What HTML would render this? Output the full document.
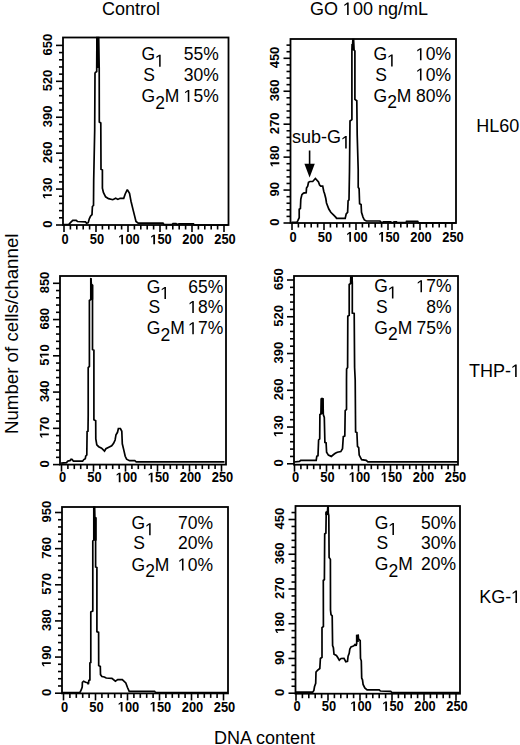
<!DOCTYPE html>
<html><head><meta charset="utf-8"><style>
html,body{margin:0;padding:0;background:#fff;}
body{width:520px;height:745px;overflow:hidden;}
svg{display:block;}
.tk{font-family:"Liberation Sans",sans-serif;font-weight:bold;font-size:13px;fill:#000;}
.tkx{font-family:"Liberation Sans",sans-serif;font-weight:bold;font-size:14px;fill:#000;}
.an{font-family:"Liberation Sans",sans-serif;font-size:17.5px;fill:#000;}
.tt{font-family:"Liberation Sans",sans-serif;font-size:18px;fill:#000;}
</style></head><body>
<svg width="520" height="745" viewBox="0 0 520 745">
<rect width="520" height="745" fill="#fff"/>
<rect x="96.2" y="37.5" width="3" height="30.5" fill="#000"/>
<rect x="352.5" y="39.5" width="1.5" height="10.7" fill="#000"/>
<rect x="351.3" y="44" width="2.7" height="6.2" fill="#000"/>
<rect x="90.2" y="278.4" width="1.5" height="6.7" fill="#000"/>
<rect x="90.2" y="285" width="3" height="14.6" fill="#000"/>
<rect x="350.1" y="277" width="2.7" height="6.6" fill="#000"/>
<rect x="320.9" y="398.5" width="2.7" height="15.5" fill="#000"/>
<rect x="93.1" y="507" width="2.1" height="10.3" fill="#000"/>
<rect x="93.1" y="517.3" width="3.6" height="23.3" fill="#000"/>
<rect x="327.1" y="507" width="1.5" height="4.5" fill="#000"/>
<rect x="325.3" y="511.5" width="3.3" height="3.6" fill="#000"/>
<rect x="356.3" y="635.3" width="2.5" height="6.7" fill="#000"/>
<polyline points="63.5,224.5 69.3,224.5 69.3,223.8 71.2,221.9 72.8,220.4 76.2,220.4 77.4,221.5 85.5,221.9 86.6,223.2 88.2,222.7 89.3,218.8 90.5,216.2 92,214.6 92.4,206.5 93.5,205.4 93.7,180 94.7,130 95,73.3 95.3,72.5 96.7,71.5 96.9,37.5 98.6,37.5 99.2,68 99.3,122 100.8,123 101,169.3 102.4,170 102.4,188.1 103.4,192.5 105.6,196.8 108.5,198.6 112.8,199.7 115.7,198.3 117.9,199.4 120.1,198.3 123.7,198.3 125.2,194 127.3,189.6 129.5,193.2 131,201.2 133.1,209.9 136,221.4 138.2,223.2 163,223.2 164,224.5 172,224.5 173,223.5 176,223.5 177,224.5 179,223.8 193.5,223.8 194,225 228,225" fill="none" stroke="#000" stroke-width="1.7" stroke-linejoin="miter" stroke-miterlimit="2"/>
<rect x="63" y="37.5" width="165.5" height="187.5" fill="none" stroke="#000" stroke-width="1.8"/>
<line x1="64" y1="225" x2="64" y2="232" stroke="#000" stroke-width="1.6"/>
<text transform="translate(65,244.3) scale(0.92,1)" class="tkx" text-anchor="middle">0</text>
<line x1="70.4" y1="225" x2="70.4" y2="229.5" stroke="#000" stroke-width="1.6"/>
<line x1="76.8" y1="225" x2="76.8" y2="229.5" stroke="#000" stroke-width="1.6"/>
<line x1="83.2" y1="225" x2="83.2" y2="229.5" stroke="#000" stroke-width="1.6"/>
<line x1="89.6" y1="225" x2="89.6" y2="229.5" stroke="#000" stroke-width="1.6"/>
<line x1="96" y1="225" x2="96" y2="232" stroke="#000" stroke-width="1.6"/>
<text transform="translate(97,244.3) scale(0.92,1)" class="tkx" text-anchor="middle">50</text>
<line x1="102.4" y1="225" x2="102.4" y2="229.5" stroke="#000" stroke-width="1.6"/>
<line x1="108.8" y1="225" x2="108.8" y2="229.5" stroke="#000" stroke-width="1.6"/>
<line x1="115.2" y1="225" x2="115.2" y2="229.5" stroke="#000" stroke-width="1.6"/>
<line x1="121.6" y1="225" x2="121.6" y2="229.5" stroke="#000" stroke-width="1.6"/>
<line x1="128" y1="225" x2="128" y2="232" stroke="#000" stroke-width="1.6"/>
<text transform="translate(129,244.3) scale(0.92,1)" class="tkx" text-anchor="middle"> 00</text>
<line x1="134.4" y1="225" x2="134.4" y2="229.5" stroke="#000" stroke-width="1.6"/>
<line x1="140.8" y1="225" x2="140.8" y2="229.5" stroke="#000" stroke-width="1.6"/>
<line x1="147.2" y1="225" x2="147.2" y2="229.5" stroke="#000" stroke-width="1.6"/>
<line x1="153.6" y1="225" x2="153.6" y2="229.5" stroke="#000" stroke-width="1.6"/>
<line x1="160" y1="225" x2="160" y2="232" stroke="#000" stroke-width="1.6"/>
<text transform="translate(161,244.3) scale(0.92,1)" class="tkx" text-anchor="middle"> 50</text>
<line x1="166.4" y1="225" x2="166.4" y2="229.5" stroke="#000" stroke-width="1.6"/>
<line x1="172.8" y1="225" x2="172.8" y2="229.5" stroke="#000" stroke-width="1.6"/>
<line x1="179.2" y1="225" x2="179.2" y2="229.5" stroke="#000" stroke-width="1.6"/>
<line x1="185.6" y1="225" x2="185.6" y2="229.5" stroke="#000" stroke-width="1.6"/>
<line x1="192" y1="225" x2="192" y2="232" stroke="#000" stroke-width="1.6"/>
<text transform="translate(193,244.3) scale(0.92,1)" class="tkx" text-anchor="middle">200</text>
<line x1="198.4" y1="225" x2="198.4" y2="229.5" stroke="#000" stroke-width="1.6"/>
<line x1="204.8" y1="225" x2="204.8" y2="229.5" stroke="#000" stroke-width="1.6"/>
<line x1="211.2" y1="225" x2="211.2" y2="229.5" stroke="#000" stroke-width="1.6"/>
<line x1="217.6" y1="225" x2="217.6" y2="229.5" stroke="#000" stroke-width="1.6"/>
<line x1="224" y1="225" x2="224" y2="232" stroke="#000" stroke-width="1.6"/>
<text transform="translate(225,244.3) scale(0.92,1)" class="tkx" text-anchor="middle">250</text>
<line x1="56" y1="225" x2="63" y2="225" stroke="#000" stroke-width="1.6"/>
<text transform="translate(51.8,224.2) rotate(-90)" class="tk" text-anchor="middle">0</text>
<line x1="59" y1="217.82" x2="63" y2="217.82" stroke="#000" stroke-width="1.6"/>
<line x1="59" y1="210.63" x2="63" y2="210.63" stroke="#000" stroke-width="1.6"/>
<line x1="59" y1="203.45" x2="63" y2="203.45" stroke="#000" stroke-width="1.6"/>
<line x1="59" y1="196.26" x2="63" y2="196.26" stroke="#000" stroke-width="1.6"/>
<line x1="56" y1="189.08" x2="63" y2="189.08" stroke="#000" stroke-width="1.6"/>
<text transform="translate(51.8,188.28) rotate(-90)" class="tk" text-anchor="middle"> 30</text>
<line x1="59" y1="181.9" x2="63" y2="181.9" stroke="#000" stroke-width="1.6"/>
<line x1="59" y1="174.71" x2="63" y2="174.71" stroke="#000" stroke-width="1.6"/>
<line x1="59" y1="167.53" x2="63" y2="167.53" stroke="#000" stroke-width="1.6"/>
<line x1="59" y1="160.34" x2="63" y2="160.34" stroke="#000" stroke-width="1.6"/>
<line x1="56" y1="153.16" x2="63" y2="153.16" stroke="#000" stroke-width="1.6"/>
<text transform="translate(51.8,152.36) rotate(-90)" class="tk" text-anchor="middle">260</text>
<line x1="59" y1="145.98" x2="63" y2="145.98" stroke="#000" stroke-width="1.6"/>
<line x1="59" y1="138.79" x2="63" y2="138.79" stroke="#000" stroke-width="1.6"/>
<line x1="59" y1="131.61" x2="63" y2="131.61" stroke="#000" stroke-width="1.6"/>
<line x1="59" y1="124.42" x2="63" y2="124.42" stroke="#000" stroke-width="1.6"/>
<line x1="56" y1="117.24" x2="63" y2="117.24" stroke="#000" stroke-width="1.6"/>
<text transform="translate(51.8,116.44) rotate(-90)" class="tk" text-anchor="middle">390</text>
<line x1="59" y1="110.06" x2="63" y2="110.06" stroke="#000" stroke-width="1.6"/>
<line x1="59" y1="102.87" x2="63" y2="102.87" stroke="#000" stroke-width="1.6"/>
<line x1="59" y1="95.69" x2="63" y2="95.69" stroke="#000" stroke-width="1.6"/>
<line x1="59" y1="88.5" x2="63" y2="88.5" stroke="#000" stroke-width="1.6"/>
<line x1="56" y1="81.32" x2="63" y2="81.32" stroke="#000" stroke-width="1.6"/>
<text transform="translate(51.8,80.52) rotate(-90)" class="tk" text-anchor="middle">520</text>
<line x1="59" y1="74.14" x2="63" y2="74.14" stroke="#000" stroke-width="1.6"/>
<line x1="59" y1="66.95" x2="63" y2="66.95" stroke="#000" stroke-width="1.6"/>
<line x1="59" y1="59.77" x2="63" y2="59.77" stroke="#000" stroke-width="1.6"/>
<line x1="59" y1="52.58" x2="63" y2="52.58" stroke="#000" stroke-width="1.6"/>
<line x1="56" y1="45.4" x2="63" y2="45.4" stroke="#000" stroke-width="1.6"/>
<text transform="translate(51.8,44.6) rotate(-90)" class="tk" text-anchor="middle">650</text>
<polyline points="291.5,222.3 296.9,222.3 297.7,220.8 299.2,217.7 299.2,209.2 300.4,208.5 300.8,199.2 301.9,194.6 303.5,193.1 306.2,192.7 306.5,188.1 307.7,186.2 308.5,182.3 310,181.5 312.7,181.5 315.4,178.5 318.5,181.9 319.6,185 320.8,186.2 322.7,186.2 323.8,191.5 324.6,193.8 325.8,198.5 326.5,203 328.8,209 330.8,212.3 333.7,215.2 336.1,217.6 336.5,218.4 345.2,218.4 346.2,213.8 347.6,212.3 348.1,200.8 349,199.8 349.5,171 350,121 351.9,119.6 351.9,51 352.6,45 352.9,39.5 353.6,39.5 354.1,50 354.9,51 354.9,99.4 356.8,100.8 357.2,135 358.2,170 358.2,187.3 359.1,188.8 359.6,203.7 361.1,204.6 361.5,212.3 363,217.1 364.4,220 366.3,221 380,221 381,222.3 383,222.3 383.5,221.8 390.8,221.8 391.5,222.5 393.7,222.5 394,221.8 396.5,221.8 397,222.7 406,222.7 406.5,221.4 417.7,221.4 418.5,222.8 456,222.8" fill="none" stroke="#000" stroke-width="1.7" stroke-linejoin="miter" stroke-miterlimit="2"/>
<rect x="290.5" y="39" width="165.5" height="184" fill="none" stroke="#000" stroke-width="1.8"/>
<line x1="292" y1="223" x2="292" y2="230" stroke="#000" stroke-width="1.6"/>
<text transform="translate(293,241.7) scale(0.92,1)" class="tkx" text-anchor="middle">0</text>
<line x1="298.4" y1="223" x2="298.4" y2="227.5" stroke="#000" stroke-width="1.6"/>
<line x1="304.8" y1="223" x2="304.8" y2="227.5" stroke="#000" stroke-width="1.6"/>
<line x1="311.2" y1="223" x2="311.2" y2="227.5" stroke="#000" stroke-width="1.6"/>
<line x1="317.6" y1="223" x2="317.6" y2="227.5" stroke="#000" stroke-width="1.6"/>
<line x1="324" y1="223" x2="324" y2="230" stroke="#000" stroke-width="1.6"/>
<text transform="translate(325,241.7) scale(0.92,1)" class="tkx" text-anchor="middle">50</text>
<line x1="330.4" y1="223" x2="330.4" y2="227.5" stroke="#000" stroke-width="1.6"/>
<line x1="336.8" y1="223" x2="336.8" y2="227.5" stroke="#000" stroke-width="1.6"/>
<line x1="343.2" y1="223" x2="343.2" y2="227.5" stroke="#000" stroke-width="1.6"/>
<line x1="349.6" y1="223" x2="349.6" y2="227.5" stroke="#000" stroke-width="1.6"/>
<line x1="356" y1="223" x2="356" y2="230" stroke="#000" stroke-width="1.6"/>
<text transform="translate(357,241.7) scale(0.92,1)" class="tkx" text-anchor="middle"> 00</text>
<line x1="362.4" y1="223" x2="362.4" y2="227.5" stroke="#000" stroke-width="1.6"/>
<line x1="368.8" y1="223" x2="368.8" y2="227.5" stroke="#000" stroke-width="1.6"/>
<line x1="375.2" y1="223" x2="375.2" y2="227.5" stroke="#000" stroke-width="1.6"/>
<line x1="381.6" y1="223" x2="381.6" y2="227.5" stroke="#000" stroke-width="1.6"/>
<line x1="388" y1="223" x2="388" y2="230" stroke="#000" stroke-width="1.6"/>
<text transform="translate(389,241.7) scale(0.92,1)" class="tkx" text-anchor="middle"> 50</text>
<line x1="394.4" y1="223" x2="394.4" y2="227.5" stroke="#000" stroke-width="1.6"/>
<line x1="400.8" y1="223" x2="400.8" y2="227.5" stroke="#000" stroke-width="1.6"/>
<line x1="407.2" y1="223" x2="407.2" y2="227.5" stroke="#000" stroke-width="1.6"/>
<line x1="413.6" y1="223" x2="413.6" y2="227.5" stroke="#000" stroke-width="1.6"/>
<line x1="420" y1="223" x2="420" y2="230" stroke="#000" stroke-width="1.6"/>
<text transform="translate(421,241.7) scale(0.92,1)" class="tkx" text-anchor="middle">200</text>
<line x1="426.4" y1="223" x2="426.4" y2="227.5" stroke="#000" stroke-width="1.6"/>
<line x1="432.8" y1="223" x2="432.8" y2="227.5" stroke="#000" stroke-width="1.6"/>
<line x1="439.2" y1="223" x2="439.2" y2="227.5" stroke="#000" stroke-width="1.6"/>
<line x1="445.6" y1="223" x2="445.6" y2="227.5" stroke="#000" stroke-width="1.6"/>
<line x1="452" y1="223" x2="452" y2="230" stroke="#000" stroke-width="1.6"/>
<text transform="translate(453,241.7) scale(0.92,1)" class="tkx" text-anchor="middle">250</text>
<line x1="283.5" y1="223" x2="290.5" y2="223" stroke="#000" stroke-width="1.6"/>
<text transform="translate(279.3,222.2) rotate(-90)" class="tk" text-anchor="middle">0</text>
<line x1="286.5" y1="216.41" x2="290.5" y2="216.41" stroke="#000" stroke-width="1.6"/>
<line x1="286.5" y1="209.82" x2="290.5" y2="209.82" stroke="#000" stroke-width="1.6"/>
<line x1="286.5" y1="203.24" x2="290.5" y2="203.24" stroke="#000" stroke-width="1.6"/>
<line x1="286.5" y1="196.65" x2="290.5" y2="196.65" stroke="#000" stroke-width="1.6"/>
<line x1="283.5" y1="190.06" x2="290.5" y2="190.06" stroke="#000" stroke-width="1.6"/>
<text transform="translate(279.3,189.26) rotate(-90)" class="tk" text-anchor="middle">90</text>
<line x1="286.5" y1="183.47" x2="290.5" y2="183.47" stroke="#000" stroke-width="1.6"/>
<line x1="286.5" y1="176.88" x2="290.5" y2="176.88" stroke="#000" stroke-width="1.6"/>
<line x1="286.5" y1="170.3" x2="290.5" y2="170.3" stroke="#000" stroke-width="1.6"/>
<line x1="286.5" y1="163.71" x2="290.5" y2="163.71" stroke="#000" stroke-width="1.6"/>
<line x1="283.5" y1="157.12" x2="290.5" y2="157.12" stroke="#000" stroke-width="1.6"/>
<text transform="translate(279.3,156.32) rotate(-90)" class="tk" text-anchor="middle"> 80</text>
<line x1="286.5" y1="150.53" x2="290.5" y2="150.53" stroke="#000" stroke-width="1.6"/>
<line x1="286.5" y1="143.94" x2="290.5" y2="143.94" stroke="#000" stroke-width="1.6"/>
<line x1="286.5" y1="137.36" x2="290.5" y2="137.36" stroke="#000" stroke-width="1.6"/>
<line x1="286.5" y1="130.77" x2="290.5" y2="130.77" stroke="#000" stroke-width="1.6"/>
<line x1="283.5" y1="124.18" x2="290.5" y2="124.18" stroke="#000" stroke-width="1.6"/>
<text transform="translate(279.3,123.38) rotate(-90)" class="tk" text-anchor="middle">270</text>
<line x1="286.5" y1="117.59" x2="290.5" y2="117.59" stroke="#000" stroke-width="1.6"/>
<line x1="286.5" y1="111" x2="290.5" y2="111" stroke="#000" stroke-width="1.6"/>
<line x1="286.5" y1="104.42" x2="290.5" y2="104.42" stroke="#000" stroke-width="1.6"/>
<line x1="286.5" y1="97.83" x2="290.5" y2="97.83" stroke="#000" stroke-width="1.6"/>
<line x1="283.5" y1="91.24" x2="290.5" y2="91.24" stroke="#000" stroke-width="1.6"/>
<text transform="translate(279.3,90.44) rotate(-90)" class="tk" text-anchor="middle">360</text>
<line x1="286.5" y1="84.65" x2="290.5" y2="84.65" stroke="#000" stroke-width="1.6"/>
<line x1="286.5" y1="78.06" x2="290.5" y2="78.06" stroke="#000" stroke-width="1.6"/>
<line x1="286.5" y1="71.48" x2="290.5" y2="71.48" stroke="#000" stroke-width="1.6"/>
<line x1="286.5" y1="64.89" x2="290.5" y2="64.89" stroke="#000" stroke-width="1.6"/>
<line x1="283.5" y1="58.3" x2="290.5" y2="58.3" stroke="#000" stroke-width="1.6"/>
<text transform="translate(279.3,57.5) rotate(-90)" class="tk" text-anchor="middle">450</text>
<line x1="286.5" y1="51.71" x2="290.5" y2="51.71" stroke="#000" stroke-width="1.6"/>
<line x1="286.5" y1="45.12" x2="290.5" y2="45.12" stroke="#000" stroke-width="1.6"/>
<polyline points="61.1,463.1 66.5,462.7 67.6,461.2 70.3,460.4 71.1,459.2 72.2,459.5 73.4,461.2 82.6,461.2 83.8,459.6 85.3,458.8 85.7,456.2 86.8,455 87.1,431.5 88,431.2 88.2,415 88.2,367.6 89.4,366.3 89.4,300.5 90.8,299.5 90.8,278.6 91,278.4 91.3,284 92.5,285.2 92.5,349.5 93.9,350.2 93.9,419.8 95.7,420.8 95.8,439 96.8,444.8 98.7,446.7 101.6,448.2 104.5,451.1 105.9,448.7 108.8,447.2 111.7,445.8 113.6,443.4 115.1,440 116,434.7 117.5,432.3 118.4,428.5 120.4,428.5 121.8,431.3 122.3,443.8 123.7,449.6 125.2,456.3 126.6,459.2 129.5,460.7 134.8,460.7 136.2,461.8 224.5,461.8" fill="none" stroke="#000" stroke-width="1.7" stroke-linejoin="miter" stroke-miterlimit="2"/>
<rect x="60" y="276" width="166" height="188.6" fill="none" stroke="#000" stroke-width="1.8"/>
<line x1="61.5" y1="464.6" x2="61.5" y2="471.6" stroke="#000" stroke-width="1.6"/>
<text transform="translate(62.5,482.3) scale(0.92,1)" class="tkx" text-anchor="middle">0</text>
<line x1="67.9" y1="464.6" x2="67.9" y2="469.1" stroke="#000" stroke-width="1.6"/>
<line x1="74.3" y1="464.6" x2="74.3" y2="469.1" stroke="#000" stroke-width="1.6"/>
<line x1="80.7" y1="464.6" x2="80.7" y2="469.1" stroke="#000" stroke-width="1.6"/>
<line x1="87.1" y1="464.6" x2="87.1" y2="469.1" stroke="#000" stroke-width="1.6"/>
<line x1="93.5" y1="464.6" x2="93.5" y2="471.6" stroke="#000" stroke-width="1.6"/>
<text transform="translate(94.5,482.3) scale(0.92,1)" class="tkx" text-anchor="middle">50</text>
<line x1="99.9" y1="464.6" x2="99.9" y2="469.1" stroke="#000" stroke-width="1.6"/>
<line x1="106.3" y1="464.6" x2="106.3" y2="469.1" stroke="#000" stroke-width="1.6"/>
<line x1="112.7" y1="464.6" x2="112.7" y2="469.1" stroke="#000" stroke-width="1.6"/>
<line x1="119.1" y1="464.6" x2="119.1" y2="469.1" stroke="#000" stroke-width="1.6"/>
<line x1="125.5" y1="464.6" x2="125.5" y2="471.6" stroke="#000" stroke-width="1.6"/>
<text transform="translate(126.5,482.3) scale(0.92,1)" class="tkx" text-anchor="middle"> 00</text>
<line x1="131.9" y1="464.6" x2="131.9" y2="469.1" stroke="#000" stroke-width="1.6"/>
<line x1="138.3" y1="464.6" x2="138.3" y2="469.1" stroke="#000" stroke-width="1.6"/>
<line x1="144.7" y1="464.6" x2="144.7" y2="469.1" stroke="#000" stroke-width="1.6"/>
<line x1="151.1" y1="464.6" x2="151.1" y2="469.1" stroke="#000" stroke-width="1.6"/>
<line x1="157.5" y1="464.6" x2="157.5" y2="471.6" stroke="#000" stroke-width="1.6"/>
<text transform="translate(158.5,482.3) scale(0.92,1)" class="tkx" text-anchor="middle"> 50</text>
<line x1="163.9" y1="464.6" x2="163.9" y2="469.1" stroke="#000" stroke-width="1.6"/>
<line x1="170.3" y1="464.6" x2="170.3" y2="469.1" stroke="#000" stroke-width="1.6"/>
<line x1="176.7" y1="464.6" x2="176.7" y2="469.1" stroke="#000" stroke-width="1.6"/>
<line x1="183.1" y1="464.6" x2="183.1" y2="469.1" stroke="#000" stroke-width="1.6"/>
<line x1="189.5" y1="464.6" x2="189.5" y2="471.6" stroke="#000" stroke-width="1.6"/>
<text transform="translate(190.5,482.3) scale(0.92,1)" class="tkx" text-anchor="middle">200</text>
<line x1="195.9" y1="464.6" x2="195.9" y2="469.1" stroke="#000" stroke-width="1.6"/>
<line x1="202.3" y1="464.6" x2="202.3" y2="469.1" stroke="#000" stroke-width="1.6"/>
<line x1="208.7" y1="464.6" x2="208.7" y2="469.1" stroke="#000" stroke-width="1.6"/>
<line x1="215.1" y1="464.6" x2="215.1" y2="469.1" stroke="#000" stroke-width="1.6"/>
<line x1="221.5" y1="464.6" x2="221.5" y2="471.6" stroke="#000" stroke-width="1.6"/>
<text transform="translate(222.5,482.3) scale(0.92,1)" class="tkx" text-anchor="middle">250</text>
<line x1="53" y1="464.6" x2="60" y2="464.6" stroke="#000" stroke-width="1.6"/>
<text transform="translate(48.8,463.8) rotate(-90)" class="tk" text-anchor="middle">0</text>
<line x1="56" y1="457.35" x2="60" y2="457.35" stroke="#000" stroke-width="1.6"/>
<line x1="56" y1="450.1" x2="60" y2="450.1" stroke="#000" stroke-width="1.6"/>
<line x1="56" y1="442.84" x2="60" y2="442.84" stroke="#000" stroke-width="1.6"/>
<line x1="56" y1="435.59" x2="60" y2="435.59" stroke="#000" stroke-width="1.6"/>
<line x1="53" y1="428.34" x2="60" y2="428.34" stroke="#000" stroke-width="1.6"/>
<text transform="translate(48.8,427.54) rotate(-90)" class="tk" text-anchor="middle"> 70</text>
<line x1="56" y1="421.09" x2="60" y2="421.09" stroke="#000" stroke-width="1.6"/>
<line x1="56" y1="413.84" x2="60" y2="413.84" stroke="#000" stroke-width="1.6"/>
<line x1="56" y1="406.58" x2="60" y2="406.58" stroke="#000" stroke-width="1.6"/>
<line x1="56" y1="399.33" x2="60" y2="399.33" stroke="#000" stroke-width="1.6"/>
<line x1="53" y1="392.08" x2="60" y2="392.08" stroke="#000" stroke-width="1.6"/>
<text transform="translate(48.8,391.28) rotate(-90)" class="tk" text-anchor="middle">340</text>
<line x1="56" y1="384.83" x2="60" y2="384.83" stroke="#000" stroke-width="1.6"/>
<line x1="56" y1="377.58" x2="60" y2="377.58" stroke="#000" stroke-width="1.6"/>
<line x1="56" y1="370.32" x2="60" y2="370.32" stroke="#000" stroke-width="1.6"/>
<line x1="56" y1="363.07" x2="60" y2="363.07" stroke="#000" stroke-width="1.6"/>
<line x1="53" y1="355.82" x2="60" y2="355.82" stroke="#000" stroke-width="1.6"/>
<text transform="translate(48.8,355.02) rotate(-90)" class="tk" text-anchor="middle">5 0</text>
<line x1="56" y1="348.57" x2="60" y2="348.57" stroke="#000" stroke-width="1.6"/>
<line x1="56" y1="341.32" x2="60" y2="341.32" stroke="#000" stroke-width="1.6"/>
<line x1="56" y1="334.06" x2="60" y2="334.06" stroke="#000" stroke-width="1.6"/>
<line x1="56" y1="326.81" x2="60" y2="326.81" stroke="#000" stroke-width="1.6"/>
<line x1="53" y1="319.56" x2="60" y2="319.56" stroke="#000" stroke-width="1.6"/>
<text transform="translate(48.8,318.76) rotate(-90)" class="tk" text-anchor="middle">680</text>
<line x1="56" y1="312.31" x2="60" y2="312.31" stroke="#000" stroke-width="1.6"/>
<line x1="56" y1="305.06" x2="60" y2="305.06" stroke="#000" stroke-width="1.6"/>
<line x1="56" y1="297.8" x2="60" y2="297.8" stroke="#000" stroke-width="1.6"/>
<line x1="56" y1="290.55" x2="60" y2="290.55" stroke="#000" stroke-width="1.6"/>
<line x1="53" y1="283.3" x2="60" y2="283.3" stroke="#000" stroke-width="1.6"/>
<text transform="translate(48.8,282.5) rotate(-90)" class="tk" text-anchor="middle">850</text>
<polyline points="294.3,462 299.5,461.4 300.7,460.3 316.2,460.3 316.8,456.2 318,455.6 318.6,440 319.7,438.9 319.9,414.6 320.9,414.1 321.2,399 322,398.5 323,398.8 323.3,414.6 324.3,417.5 324.9,442.4 326.1,442.9 326.6,452.2 328.4,455.1 331.3,456.4 333.6,454.5 335.3,453.3 337.3,452.2 340.8,451.6 342.5,448.7 343.3,436.6 344.8,436 345.2,410.6 346.5,409.4 346.5,380 346.6,369 347.6,367.6 347.8,316.2 349.2,315.3 349.2,284.5 350.6,283.5 350.8,277 352,277 352.3,283 352.3,313 354.2,313.5 354.6,367.6 355.2,380 355.6,432 356.9,432.5 357.5,446.4 358.7,447.6 359.2,455.1 361.6,459.7 366.2,460.3 367.9,461.9 458,461.9" fill="none" stroke="#000" stroke-width="1.7" stroke-linejoin="miter" stroke-miterlimit="2"/>
<rect x="294" y="276" width="164" height="188.7" fill="none" stroke="#000" stroke-width="1.8"/>
<line x1="294.5" y1="464.7" x2="294.5" y2="471.7" stroke="#000" stroke-width="1.6"/>
<text transform="translate(295.5,482) scale(0.92,1)" class="tkx" text-anchor="middle">0</text>
<line x1="300.9" y1="464.7" x2="300.9" y2="469.2" stroke="#000" stroke-width="1.6"/>
<line x1="307.3" y1="464.7" x2="307.3" y2="469.2" stroke="#000" stroke-width="1.6"/>
<line x1="313.7" y1="464.7" x2="313.7" y2="469.2" stroke="#000" stroke-width="1.6"/>
<line x1="320.1" y1="464.7" x2="320.1" y2="469.2" stroke="#000" stroke-width="1.6"/>
<line x1="326.5" y1="464.7" x2="326.5" y2="471.7" stroke="#000" stroke-width="1.6"/>
<text transform="translate(327.5,482) scale(0.92,1)" class="tkx" text-anchor="middle">50</text>
<line x1="332.9" y1="464.7" x2="332.9" y2="469.2" stroke="#000" stroke-width="1.6"/>
<line x1="339.3" y1="464.7" x2="339.3" y2="469.2" stroke="#000" stroke-width="1.6"/>
<line x1="345.7" y1="464.7" x2="345.7" y2="469.2" stroke="#000" stroke-width="1.6"/>
<line x1="352.1" y1="464.7" x2="352.1" y2="469.2" stroke="#000" stroke-width="1.6"/>
<line x1="358.5" y1="464.7" x2="358.5" y2="471.7" stroke="#000" stroke-width="1.6"/>
<text transform="translate(359.5,482) scale(0.92,1)" class="tkx" text-anchor="middle"> 00</text>
<line x1="364.9" y1="464.7" x2="364.9" y2="469.2" stroke="#000" stroke-width="1.6"/>
<line x1="371.3" y1="464.7" x2="371.3" y2="469.2" stroke="#000" stroke-width="1.6"/>
<line x1="377.7" y1="464.7" x2="377.7" y2="469.2" stroke="#000" stroke-width="1.6"/>
<line x1="384.1" y1="464.7" x2="384.1" y2="469.2" stroke="#000" stroke-width="1.6"/>
<line x1="390.5" y1="464.7" x2="390.5" y2="471.7" stroke="#000" stroke-width="1.6"/>
<text transform="translate(391.5,482) scale(0.92,1)" class="tkx" text-anchor="middle"> 50</text>
<line x1="396.9" y1="464.7" x2="396.9" y2="469.2" stroke="#000" stroke-width="1.6"/>
<line x1="403.3" y1="464.7" x2="403.3" y2="469.2" stroke="#000" stroke-width="1.6"/>
<line x1="409.7" y1="464.7" x2="409.7" y2="469.2" stroke="#000" stroke-width="1.6"/>
<line x1="416.1" y1="464.7" x2="416.1" y2="469.2" stroke="#000" stroke-width="1.6"/>
<line x1="422.5" y1="464.7" x2="422.5" y2="471.7" stroke="#000" stroke-width="1.6"/>
<text transform="translate(423.5,482) scale(0.92,1)" class="tkx" text-anchor="middle">200</text>
<line x1="428.9" y1="464.7" x2="428.9" y2="469.2" stroke="#000" stroke-width="1.6"/>
<line x1="435.3" y1="464.7" x2="435.3" y2="469.2" stroke="#000" stroke-width="1.6"/>
<line x1="441.7" y1="464.7" x2="441.7" y2="469.2" stroke="#000" stroke-width="1.6"/>
<line x1="448.1" y1="464.7" x2="448.1" y2="469.2" stroke="#000" stroke-width="1.6"/>
<line x1="454.5" y1="464.7" x2="454.5" y2="471.7" stroke="#000" stroke-width="1.6"/>
<text transform="translate(455.5,482) scale(0.92,1)" class="tkx" text-anchor="middle">250</text>
<line x1="287" y1="463.8" x2="294" y2="463.8" stroke="#000" stroke-width="1.6"/>
<text transform="translate(282.8,463) rotate(-90)" class="tk" text-anchor="middle">0</text>
<line x1="290" y1="456.45" x2="294" y2="456.45" stroke="#000" stroke-width="1.6"/>
<line x1="290" y1="449.1" x2="294" y2="449.1" stroke="#000" stroke-width="1.6"/>
<line x1="290" y1="441.74" x2="294" y2="441.74" stroke="#000" stroke-width="1.6"/>
<line x1="290" y1="434.39" x2="294" y2="434.39" stroke="#000" stroke-width="1.6"/>
<line x1="287" y1="427.04" x2="294" y2="427.04" stroke="#000" stroke-width="1.6"/>
<text transform="translate(282.8,426.24) rotate(-90)" class="tk" text-anchor="middle"> 30</text>
<line x1="290" y1="419.69" x2="294" y2="419.69" stroke="#000" stroke-width="1.6"/>
<line x1="290" y1="412.34" x2="294" y2="412.34" stroke="#000" stroke-width="1.6"/>
<line x1="290" y1="404.98" x2="294" y2="404.98" stroke="#000" stroke-width="1.6"/>
<line x1="290" y1="397.63" x2="294" y2="397.63" stroke="#000" stroke-width="1.6"/>
<line x1="287" y1="390.28" x2="294" y2="390.28" stroke="#000" stroke-width="1.6"/>
<text transform="translate(282.8,389.48) rotate(-90)" class="tk" text-anchor="middle">260</text>
<line x1="290" y1="382.93" x2="294" y2="382.93" stroke="#000" stroke-width="1.6"/>
<line x1="290" y1="375.58" x2="294" y2="375.58" stroke="#000" stroke-width="1.6"/>
<line x1="290" y1="368.22" x2="294" y2="368.22" stroke="#000" stroke-width="1.6"/>
<line x1="290" y1="360.87" x2="294" y2="360.87" stroke="#000" stroke-width="1.6"/>
<line x1="287" y1="353.52" x2="294" y2="353.52" stroke="#000" stroke-width="1.6"/>
<text transform="translate(282.8,352.72) rotate(-90)" class="tk" text-anchor="middle">390</text>
<line x1="290" y1="346.17" x2="294" y2="346.17" stroke="#000" stroke-width="1.6"/>
<line x1="290" y1="338.82" x2="294" y2="338.82" stroke="#000" stroke-width="1.6"/>
<line x1="290" y1="331.46" x2="294" y2="331.46" stroke="#000" stroke-width="1.6"/>
<line x1="290" y1="324.11" x2="294" y2="324.11" stroke="#000" stroke-width="1.6"/>
<line x1="287" y1="316.76" x2="294" y2="316.76" stroke="#000" stroke-width="1.6"/>
<text transform="translate(282.8,315.96) rotate(-90)" class="tk" text-anchor="middle">520</text>
<line x1="290" y1="309.41" x2="294" y2="309.41" stroke="#000" stroke-width="1.6"/>
<line x1="290" y1="302.06" x2="294" y2="302.06" stroke="#000" stroke-width="1.6"/>
<line x1="290" y1="294.7" x2="294" y2="294.7" stroke="#000" stroke-width="1.6"/>
<line x1="290" y1="287.35" x2="294" y2="287.35" stroke="#000" stroke-width="1.6"/>
<line x1="287" y1="280" x2="294" y2="280" stroke="#000" stroke-width="1.6"/>
<text transform="translate(282.8,279.2) rotate(-90)" class="tk" text-anchor="middle">650</text>
<polyline points="61.7,692.6 79.8,692.6 81.2,690 82.2,687.1 82.4,682.3 83.6,681.2 85.6,682.3 87.5,682.8 88.4,684.2 88.9,680.4 89.9,679.9 89.9,663.1 90.8,662.6 90.8,612 92.8,611 92.8,541 93.8,540 93.8,507 94.5,507 94.8,517 95.6,518 95.6,567 96.9,567.5 96.9,631.6 98.6,632.4 98.7,665.5 100.3,666.4 100.5,674.6 101.9,676.5 104.3,677 106.2,678 111.9,678.3 115.4,681.1 117.7,679.6 122.3,679.6 125.8,682.9 127.5,687.5 129.2,691.3 154.6,691.3 155.7,692.7 228,692.7" fill="none" stroke="#000" stroke-width="1.7" stroke-linejoin="miter" stroke-miterlimit="2"/>
<rect x="62" y="507" width="166" height="186.4" fill="none" stroke="#000" stroke-width="1.8"/>
<line x1="63.5" y1="693.4" x2="63.5" y2="700.4" stroke="#000" stroke-width="1.6"/>
<text transform="translate(64.5,711.6) scale(0.92,1)" class="tkx" text-anchor="middle">0</text>
<line x1="69.9" y1="693.4" x2="69.9" y2="697.9" stroke="#000" stroke-width="1.6"/>
<line x1="76.3" y1="693.4" x2="76.3" y2="697.9" stroke="#000" stroke-width="1.6"/>
<line x1="82.7" y1="693.4" x2="82.7" y2="697.9" stroke="#000" stroke-width="1.6"/>
<line x1="89.1" y1="693.4" x2="89.1" y2="697.9" stroke="#000" stroke-width="1.6"/>
<line x1="95.5" y1="693.4" x2="95.5" y2="700.4" stroke="#000" stroke-width="1.6"/>
<text transform="translate(96.5,711.6) scale(0.92,1)" class="tkx" text-anchor="middle">50</text>
<line x1="101.9" y1="693.4" x2="101.9" y2="697.9" stroke="#000" stroke-width="1.6"/>
<line x1="108.3" y1="693.4" x2="108.3" y2="697.9" stroke="#000" stroke-width="1.6"/>
<line x1="114.7" y1="693.4" x2="114.7" y2="697.9" stroke="#000" stroke-width="1.6"/>
<line x1="121.1" y1="693.4" x2="121.1" y2="697.9" stroke="#000" stroke-width="1.6"/>
<line x1="127.5" y1="693.4" x2="127.5" y2="700.4" stroke="#000" stroke-width="1.6"/>
<text transform="translate(128.5,711.6) scale(0.92,1)" class="tkx" text-anchor="middle"> 00</text>
<line x1="133.9" y1="693.4" x2="133.9" y2="697.9" stroke="#000" stroke-width="1.6"/>
<line x1="140.3" y1="693.4" x2="140.3" y2="697.9" stroke="#000" stroke-width="1.6"/>
<line x1="146.7" y1="693.4" x2="146.7" y2="697.9" stroke="#000" stroke-width="1.6"/>
<line x1="153.1" y1="693.4" x2="153.1" y2="697.9" stroke="#000" stroke-width="1.6"/>
<line x1="159.5" y1="693.4" x2="159.5" y2="700.4" stroke="#000" stroke-width="1.6"/>
<text transform="translate(160.5,711.6) scale(0.92,1)" class="tkx" text-anchor="middle"> 50</text>
<line x1="165.9" y1="693.4" x2="165.9" y2="697.9" stroke="#000" stroke-width="1.6"/>
<line x1="172.3" y1="693.4" x2="172.3" y2="697.9" stroke="#000" stroke-width="1.6"/>
<line x1="178.7" y1="693.4" x2="178.7" y2="697.9" stroke="#000" stroke-width="1.6"/>
<line x1="185.1" y1="693.4" x2="185.1" y2="697.9" stroke="#000" stroke-width="1.6"/>
<line x1="191.5" y1="693.4" x2="191.5" y2="700.4" stroke="#000" stroke-width="1.6"/>
<text transform="translate(192.5,711.6) scale(0.92,1)" class="tkx" text-anchor="middle">200</text>
<line x1="197.9" y1="693.4" x2="197.9" y2="697.9" stroke="#000" stroke-width="1.6"/>
<line x1="204.3" y1="693.4" x2="204.3" y2="697.9" stroke="#000" stroke-width="1.6"/>
<line x1="210.7" y1="693.4" x2="210.7" y2="697.9" stroke="#000" stroke-width="1.6"/>
<line x1="217.1" y1="693.4" x2="217.1" y2="697.9" stroke="#000" stroke-width="1.6"/>
<line x1="223.5" y1="693.4" x2="223.5" y2="700.4" stroke="#000" stroke-width="1.6"/>
<text transform="translate(224.5,711.6) scale(0.92,1)" class="tkx" text-anchor="middle">250</text>
<line x1="55" y1="693.2" x2="62" y2="693.2" stroke="#000" stroke-width="1.6"/>
<text transform="translate(50.8,692.4) rotate(-90)" class="tk" text-anchor="middle">0</text>
<line x1="58" y1="685.97" x2="62" y2="685.97" stroke="#000" stroke-width="1.6"/>
<line x1="58" y1="678.74" x2="62" y2="678.74" stroke="#000" stroke-width="1.6"/>
<line x1="58" y1="671.52" x2="62" y2="671.52" stroke="#000" stroke-width="1.6"/>
<line x1="58" y1="664.29" x2="62" y2="664.29" stroke="#000" stroke-width="1.6"/>
<line x1="55" y1="657.06" x2="62" y2="657.06" stroke="#000" stroke-width="1.6"/>
<text transform="translate(50.8,656.26) rotate(-90)" class="tk" text-anchor="middle"> 90</text>
<line x1="58" y1="649.83" x2="62" y2="649.83" stroke="#000" stroke-width="1.6"/>
<line x1="58" y1="642.6" x2="62" y2="642.6" stroke="#000" stroke-width="1.6"/>
<line x1="58" y1="635.38" x2="62" y2="635.38" stroke="#000" stroke-width="1.6"/>
<line x1="58" y1="628.15" x2="62" y2="628.15" stroke="#000" stroke-width="1.6"/>
<line x1="55" y1="620.92" x2="62" y2="620.92" stroke="#000" stroke-width="1.6"/>
<text transform="translate(50.8,620.12) rotate(-90)" class="tk" text-anchor="middle">380</text>
<line x1="58" y1="613.69" x2="62" y2="613.69" stroke="#000" stroke-width="1.6"/>
<line x1="58" y1="606.46" x2="62" y2="606.46" stroke="#000" stroke-width="1.6"/>
<line x1="58" y1="599.24" x2="62" y2="599.24" stroke="#000" stroke-width="1.6"/>
<line x1="58" y1="592.01" x2="62" y2="592.01" stroke="#000" stroke-width="1.6"/>
<line x1="55" y1="584.78" x2="62" y2="584.78" stroke="#000" stroke-width="1.6"/>
<text transform="translate(50.8,583.98) rotate(-90)" class="tk" text-anchor="middle">570</text>
<line x1="58" y1="577.55" x2="62" y2="577.55" stroke="#000" stroke-width="1.6"/>
<line x1="58" y1="570.32" x2="62" y2="570.32" stroke="#000" stroke-width="1.6"/>
<line x1="58" y1="563.1" x2="62" y2="563.1" stroke="#000" stroke-width="1.6"/>
<line x1="58" y1="555.87" x2="62" y2="555.87" stroke="#000" stroke-width="1.6"/>
<line x1="55" y1="548.64" x2="62" y2="548.64" stroke="#000" stroke-width="1.6"/>
<text transform="translate(50.8,547.84) rotate(-90)" class="tk" text-anchor="middle">760</text>
<line x1="58" y1="541.41" x2="62" y2="541.41" stroke="#000" stroke-width="1.6"/>
<line x1="58" y1="534.18" x2="62" y2="534.18" stroke="#000" stroke-width="1.6"/>
<line x1="58" y1="526.96" x2="62" y2="526.96" stroke="#000" stroke-width="1.6"/>
<line x1="58" y1="519.73" x2="62" y2="519.73" stroke="#000" stroke-width="1.6"/>
<line x1="55" y1="512.5" x2="62" y2="512.5" stroke="#000" stroke-width="1.6"/>
<text transform="translate(50.8,511.7) rotate(-90)" class="tk" text-anchor="middle">950</text>
<polyline points="295.7,692.2 312.7,692.2 313.9,690.4 314.5,686.8 315.7,683.3 316,672.1 317.5,670.3 319.8,668.5 320.4,658.5 322,657.3 322,627.7 323.4,626.5 323.3,580.5 324.4,579.5 324.7,534 325.9,533 326.2,513 327.5,511 327.8,507 328.2,507 328.3,513 328.8,515.5 329.1,557.4 330.4,559.4 330.5,610 331,614.7 332.2,615.9 332.6,645.5 333.4,647.8 334,654.3 336.4,655.5 337.6,657.3 339.3,660.2 341.1,658.5 344,658.4 345.8,661.7 347.5,661.3 348.1,656.1 349.2,653.3 349.8,649.2 351,646.9 352.7,646.3 353.8,645.8 355,644.6 356.1,645.8 356.7,643.5 356.7,635.4 358.2,635.2 358.5,638.8 360.2,640.6 360.5,658.4 361.3,660.8 361.7,678.1 362.5,679.8 363.1,684.4 364.8,687.9 367.1,689.8 379.2,689.8 380.4,691 390.7,691.3 391.9,692.5 460,692.5" fill="none" stroke="#000" stroke-width="1.7" stroke-linejoin="miter" stroke-miterlimit="2"/>
<rect x="295.5" y="506" width="164.5" height="187.7" fill="none" stroke="#000" stroke-width="1.8"/>
<line x1="296" y1="693.7" x2="296" y2="700.7" stroke="#000" stroke-width="1.6"/>
<text transform="translate(297,711.1) scale(0.92,1)" class="tkx" text-anchor="middle">0</text>
<line x1="302.4" y1="693.7" x2="302.4" y2="698.2" stroke="#000" stroke-width="1.6"/>
<line x1="308.8" y1="693.7" x2="308.8" y2="698.2" stroke="#000" stroke-width="1.6"/>
<line x1="315.2" y1="693.7" x2="315.2" y2="698.2" stroke="#000" stroke-width="1.6"/>
<line x1="321.6" y1="693.7" x2="321.6" y2="698.2" stroke="#000" stroke-width="1.6"/>
<line x1="328" y1="693.7" x2="328" y2="700.7" stroke="#000" stroke-width="1.6"/>
<text transform="translate(329,711.1) scale(0.92,1)" class="tkx" text-anchor="middle">50</text>
<line x1="334.4" y1="693.7" x2="334.4" y2="698.2" stroke="#000" stroke-width="1.6"/>
<line x1="340.8" y1="693.7" x2="340.8" y2="698.2" stroke="#000" stroke-width="1.6"/>
<line x1="347.2" y1="693.7" x2="347.2" y2="698.2" stroke="#000" stroke-width="1.6"/>
<line x1="353.6" y1="693.7" x2="353.6" y2="698.2" stroke="#000" stroke-width="1.6"/>
<line x1="360" y1="693.7" x2="360" y2="700.7" stroke="#000" stroke-width="1.6"/>
<text transform="translate(361,711.1) scale(0.92,1)" class="tkx" text-anchor="middle"> 00</text>
<line x1="366.4" y1="693.7" x2="366.4" y2="698.2" stroke="#000" stroke-width="1.6"/>
<line x1="372.8" y1="693.7" x2="372.8" y2="698.2" stroke="#000" stroke-width="1.6"/>
<line x1="379.2" y1="693.7" x2="379.2" y2="698.2" stroke="#000" stroke-width="1.6"/>
<line x1="385.6" y1="693.7" x2="385.6" y2="698.2" stroke="#000" stroke-width="1.6"/>
<line x1="392" y1="693.7" x2="392" y2="700.7" stroke="#000" stroke-width="1.6"/>
<text transform="translate(393,711.1) scale(0.92,1)" class="tkx" text-anchor="middle"> 50</text>
<line x1="398.4" y1="693.7" x2="398.4" y2="698.2" stroke="#000" stroke-width="1.6"/>
<line x1="404.8" y1="693.7" x2="404.8" y2="698.2" stroke="#000" stroke-width="1.6"/>
<line x1="411.2" y1="693.7" x2="411.2" y2="698.2" stroke="#000" stroke-width="1.6"/>
<line x1="417.6" y1="693.7" x2="417.6" y2="698.2" stroke="#000" stroke-width="1.6"/>
<line x1="424" y1="693.7" x2="424" y2="700.7" stroke="#000" stroke-width="1.6"/>
<text transform="translate(425,711.1) scale(0.92,1)" class="tkx" text-anchor="middle">200</text>
<line x1="430.4" y1="693.7" x2="430.4" y2="698.2" stroke="#000" stroke-width="1.6"/>
<line x1="436.8" y1="693.7" x2="436.8" y2="698.2" stroke="#000" stroke-width="1.6"/>
<line x1="443.2" y1="693.7" x2="443.2" y2="698.2" stroke="#000" stroke-width="1.6"/>
<line x1="449.6" y1="693.7" x2="449.6" y2="698.2" stroke="#000" stroke-width="1.6"/>
<line x1="456" y1="693.7" x2="456" y2="700.7" stroke="#000" stroke-width="1.6"/>
<text transform="translate(457,711.1) scale(0.92,1)" class="tkx" text-anchor="middle">250</text>
<line x1="288.5" y1="693.2" x2="295.5" y2="693.2" stroke="#000" stroke-width="1.6"/>
<text transform="translate(284.3,692.4) rotate(-90)" class="tk" text-anchor="middle">0</text>
<line x1="291.5" y1="686.25" x2="295.5" y2="686.25" stroke="#000" stroke-width="1.6"/>
<line x1="291.5" y1="679.3" x2="295.5" y2="679.3" stroke="#000" stroke-width="1.6"/>
<line x1="291.5" y1="672.36" x2="295.5" y2="672.36" stroke="#000" stroke-width="1.6"/>
<line x1="291.5" y1="665.41" x2="295.5" y2="665.41" stroke="#000" stroke-width="1.6"/>
<line x1="288.5" y1="658.46" x2="295.5" y2="658.46" stroke="#000" stroke-width="1.6"/>
<text transform="translate(284.3,657.66) rotate(-90)" class="tk" text-anchor="middle">90</text>
<line x1="291.5" y1="651.51" x2="295.5" y2="651.51" stroke="#000" stroke-width="1.6"/>
<line x1="291.5" y1="644.56" x2="295.5" y2="644.56" stroke="#000" stroke-width="1.6"/>
<line x1="291.5" y1="637.62" x2="295.5" y2="637.62" stroke="#000" stroke-width="1.6"/>
<line x1="291.5" y1="630.67" x2="295.5" y2="630.67" stroke="#000" stroke-width="1.6"/>
<line x1="288.5" y1="623.72" x2="295.5" y2="623.72" stroke="#000" stroke-width="1.6"/>
<text transform="translate(284.3,622.92) rotate(-90)" class="tk" text-anchor="middle"> 80</text>
<line x1="291.5" y1="616.77" x2="295.5" y2="616.77" stroke="#000" stroke-width="1.6"/>
<line x1="291.5" y1="609.82" x2="295.5" y2="609.82" stroke="#000" stroke-width="1.6"/>
<line x1="291.5" y1="602.88" x2="295.5" y2="602.88" stroke="#000" stroke-width="1.6"/>
<line x1="291.5" y1="595.93" x2="295.5" y2="595.93" stroke="#000" stroke-width="1.6"/>
<line x1="288.5" y1="588.98" x2="295.5" y2="588.98" stroke="#000" stroke-width="1.6"/>
<text transform="translate(284.3,588.18) rotate(-90)" class="tk" text-anchor="middle">270</text>
<line x1="291.5" y1="582.03" x2="295.5" y2="582.03" stroke="#000" stroke-width="1.6"/>
<line x1="291.5" y1="575.08" x2="295.5" y2="575.08" stroke="#000" stroke-width="1.6"/>
<line x1="291.5" y1="568.14" x2="295.5" y2="568.14" stroke="#000" stroke-width="1.6"/>
<line x1="291.5" y1="561.19" x2="295.5" y2="561.19" stroke="#000" stroke-width="1.6"/>
<line x1="288.5" y1="554.24" x2="295.5" y2="554.24" stroke="#000" stroke-width="1.6"/>
<text transform="translate(284.3,553.44) rotate(-90)" class="tk" text-anchor="middle">360</text>
<line x1="291.5" y1="547.29" x2="295.5" y2="547.29" stroke="#000" stroke-width="1.6"/>
<line x1="291.5" y1="540.34" x2="295.5" y2="540.34" stroke="#000" stroke-width="1.6"/>
<line x1="291.5" y1="533.4" x2="295.5" y2="533.4" stroke="#000" stroke-width="1.6"/>
<line x1="291.5" y1="526.45" x2="295.5" y2="526.45" stroke="#000" stroke-width="1.6"/>
<line x1="288.5" y1="519.5" x2="295.5" y2="519.5" stroke="#000" stroke-width="1.6"/>
<text transform="translate(284.3,518.7) rotate(-90)" class="tk" text-anchor="middle">450</text>
<line x1="291.5" y1="512.55" x2="295.5" y2="512.55" stroke="#000" stroke-width="1.6"/>
<text x="141.5" y="60.4" class="an">G<tspan dy="6.3" > </tspan></text>
<text x="218.8" y="60.4" class="an" text-anchor="end">55%</text>
<text x="143.3" y="80.8" class="an">S</text>
<text x="218.8" y="80.8" class="an" text-anchor="end">30%</text>
<text x="141.5" y="102" class="an">G<tspan dy="6.5">2</tspan><tspan dy="-6.5">M</tspan></text>
<text x="218.8" y="102" class="an" text-anchor="end"> 5%</text>
<text x="373.5" y="60.2" class="an">G<tspan dy="6.3" > </tspan></text>
<text x="451" y="60.2" class="an" text-anchor="end"> 0%</text>
<text x="375.3" y="80.6" class="an">S</text>
<text x="451" y="80.6" class="an" text-anchor="end"> 0%</text>
<text x="373.5" y="101.8" class="an">G<tspan dy="6.5">2</tspan><tspan dy="-6.5">M</tspan></text>
<text x="451" y="101.8" class="an" text-anchor="end">80%</text>
<text x="146.8" y="292.7" class="an">G<tspan dy="6.3" > </tspan></text>
<text x="223.3" y="292.7" class="an" text-anchor="end">65%</text>
<text x="148.6" y="313.1" class="an">S</text>
<text x="223.3" y="313.1" class="an" text-anchor="end"> 8%</text>
<text x="146.8" y="334.3" class="an">G<tspan dy="6.5">2</tspan><tspan dy="-6.5">M</tspan></text>
<text x="223.3" y="334.3" class="an" text-anchor="end"> 7%</text>
<text x="374.3" y="292.3" class="an">G<tspan dy="6.3" > </tspan></text>
<text x="451.5" y="292.3" class="an" text-anchor="end"> 7%</text>
<text x="376.1" y="312.7" class="an">S</text>
<text x="451.5" y="312.7" class="an" text-anchor="end">8%</text>
<text x="374.3" y="333.9" class="an">G<tspan dy="6.5">2</tspan><tspan dy="-6.5">M</tspan></text>
<text x="451.5" y="333.9" class="an" text-anchor="end">75%</text>
<text x="131.5" y="529" class="an">G<tspan dy="6.3" > </tspan></text>
<text x="213" y="529" class="an" text-anchor="end">70%</text>
<text x="133.3" y="549.4" class="an">S</text>
<text x="213" y="549.4" class="an" text-anchor="end">20%</text>
<text x="131.5" y="570.6" class="an">G<tspan dy="6.5">2</tspan><tspan dy="-6.5">M</tspan></text>
<text x="213" y="570.6" class="an" text-anchor="end"> 0%</text>
<text x="374.8" y="528.7" class="an">G<tspan dy="6.3" > </tspan></text>
<text x="456" y="528.7" class="an" text-anchor="end">50%</text>
<text x="376.6" y="549.1" class="an">S</text>
<text x="456" y="549.1" class="an" text-anchor="end">30%</text>
<text x="374.8" y="570.3" class="an">G<tspan dy="6.5">2</tspan><tspan dy="-6.5">M</tspan></text>
<text x="456" y="570.3" class="an" text-anchor="end">20%</text>
<text x="292" y="143" class="an" style="font-size:18px">sub-G<tspan dy="5.5"> </tspan></text>
<line x1="309.6" y1="150.5" x2="309.6" y2="166" stroke="#000" stroke-width="1.6"/>
<polygon points="304.4,163.7 314.8,163.7 309.6,177.6" fill="#000"/>
<text x="131" y="15" class="tt" text-anchor="middle">Control</text>
<text x="369" y="15" class="tt" text-anchor="middle">GO  00 ng/mL</text>
<text x="476.2" y="132" class="tt">HL60</text>
<text x="469" y="377" class="tt">THP- </text>
<text x="479.3" y="603" class="tt">KG- </text>
<text transform="translate(17.7,333.8) rotate(-90)" class="tt" style="font-size:18.7px" text-anchor="middle">Number of cells/channel</text>
<text x="264.5" y="744" class="tt" text-anchor="middle">DNA content</text>
<g fill="#000">
<path transform="translate(129,244.3) scale(0.92,1) translate(-11.67,0.00) scale(0.00684,-0.00684)" d="M478,0L759,0L759,1409L493,1409L140,1180L140,959L478,1170Z"/>
<path transform="translate(161,244.3) scale(0.92,1) translate(-11.67,0.00) scale(0.00684,-0.00684)" d="M478,0L759,0L759,1409L493,1409L140,1180L140,959L478,1170Z"/>
<path transform="translate(51.8,188.28) rotate(-90) translate(-10.85,0.00) scale(0.00635,-0.00635)" d="M478,0L759,0L759,1409L493,1409L140,1180L140,959L478,1170Z"/>
<path transform="translate(357,241.7) scale(0.92,1) translate(-11.67,0.00) scale(0.00684,-0.00684)" d="M478,0L759,0L759,1409L493,1409L140,1180L140,959L478,1170Z"/>
<path transform="translate(389,241.7) scale(0.92,1) translate(-11.67,0.00) scale(0.00684,-0.00684)" d="M478,0L759,0L759,1409L493,1409L140,1180L140,959L478,1170Z"/>
<path transform="translate(279.3,156.32) rotate(-90) translate(-10.85,0.00) scale(0.00635,-0.00635)" d="M478,0L759,0L759,1409L493,1409L140,1180L140,959L478,1170Z"/>
<path transform="translate(126.5,482.3) scale(0.92,1) translate(-11.67,0.00) scale(0.00684,-0.00684)" d="M478,0L759,0L759,1409L493,1409L140,1180L140,959L478,1170Z"/>
<path transform="translate(158.5,482.3) scale(0.92,1) translate(-11.67,0.00) scale(0.00684,-0.00684)" d="M478,0L759,0L759,1409L493,1409L140,1180L140,959L478,1170Z"/>
<path transform="translate(48.8,427.54) rotate(-90) translate(-10.85,0.00) scale(0.00635,-0.00635)" d="M478,0L759,0L759,1409L493,1409L140,1180L140,959L478,1170Z"/>
<path transform="translate(48.8,355.02) rotate(-90) translate(-3.63,0.00) scale(0.00635,-0.00635)" d="M478,0L759,0L759,1409L493,1409L140,1180L140,959L478,1170Z"/>
<path transform="translate(359.5,482) scale(0.92,1) translate(-11.67,0.00) scale(0.00684,-0.00684)" d="M478,0L759,0L759,1409L493,1409L140,1180L140,959L478,1170Z"/>
<path transform="translate(391.5,482) scale(0.92,1) translate(-11.67,0.00) scale(0.00684,-0.00684)" d="M478,0L759,0L759,1409L493,1409L140,1180L140,959L478,1170Z"/>
<path transform="translate(282.8,426.24) rotate(-90) translate(-10.85,0.00) scale(0.00635,-0.00635)" d="M478,0L759,0L759,1409L493,1409L140,1180L140,959L478,1170Z"/>
<path transform="translate(128.5,711.6) scale(0.92,1) translate(-11.67,0.00) scale(0.00684,-0.00684)" d="M478,0L759,0L759,1409L493,1409L140,1180L140,959L478,1170Z"/>
<path transform="translate(160.5,711.6) scale(0.92,1) translate(-11.67,0.00) scale(0.00684,-0.00684)" d="M478,0L759,0L759,1409L493,1409L140,1180L140,959L478,1170Z"/>
<path transform="translate(50.8,656.26) rotate(-90) translate(-10.85,0.00) scale(0.00635,-0.00635)" d="M478,0L759,0L759,1409L493,1409L140,1180L140,959L478,1170Z"/>
<path transform="translate(361,711.1) scale(0.92,1) translate(-11.67,0.00) scale(0.00684,-0.00684)" d="M478,0L759,0L759,1409L493,1409L140,1180L140,959L478,1170Z"/>
<path transform="translate(393,711.1) scale(0.92,1) translate(-11.67,0.00) scale(0.00684,-0.00684)" d="M478,0L759,0L759,1409L493,1409L140,1180L140,959L478,1170Z"/>
<path transform="translate(284.3,622.92) rotate(-90) translate(-10.85,0.00) scale(0.00635,-0.00635)" d="M478,0L759,0L759,1409L493,1409L140,1180L140,959L478,1170Z"/>
<path transform="translate(154.72,66.70) scale(0.00854,-0.00854)" d="M515,0L696,0L696,1409L530,1409L197,1180L197,1010L515,1237Z"/>
<path transform="translate(183.37,102.00) scale(0.00854,-0.00854)" d="M515,0L696,0L696,1409L530,1409L197,1180L197,1010L515,1237Z"/>
<path transform="translate(386.73,66.50) scale(0.00854,-0.00854)" d="M515,0L696,0L696,1409L530,1409L197,1180L197,1010L515,1237Z"/>
<path transform="translate(415.57,60.20) scale(0.00854,-0.00854)" d="M515,0L696,0L696,1409L530,1409L197,1180L197,1010L515,1237Z"/>
<path transform="translate(415.57,80.60) scale(0.00854,-0.00854)" d="M515,0L696,0L696,1409L530,1409L197,1180L197,1010L515,1237Z"/>
<path transform="translate(160.03,299.00) scale(0.00854,-0.00854)" d="M515,0L696,0L696,1409L530,1409L197,1180L197,1010L515,1237Z"/>
<path transform="translate(187.87,313.10) scale(0.00854,-0.00854)" d="M515,0L696,0L696,1409L530,1409L197,1180L197,1010L515,1237Z"/>
<path transform="translate(187.87,334.30) scale(0.00854,-0.00854)" d="M515,0L696,0L696,1409L530,1409L197,1180L197,1010L515,1237Z"/>
<path transform="translate(387.52,298.60) scale(0.00854,-0.00854)" d="M515,0L696,0L696,1409L530,1409L197,1180L197,1010L515,1237Z"/>
<path transform="translate(416.07,292.30) scale(0.00854,-0.00854)" d="M515,0L696,0L696,1409L530,1409L197,1180L197,1010L515,1237Z"/>
<path transform="translate(144.72,535.30) scale(0.00854,-0.00854)" d="M515,0L696,0L696,1409L530,1409L197,1180L197,1010L515,1237Z"/>
<path transform="translate(177.57,570.60) scale(0.00854,-0.00854)" d="M515,0L696,0L696,1409L530,1409L197,1180L197,1010L515,1237Z"/>
<path transform="translate(388.02,535.00) scale(0.00854,-0.00854)" d="M515,0L696,0L696,1409L530,1409L197,1180L197,1010L515,1237Z"/>
<path transform="translate(340.63,148.50) scale(0.00879,-0.00879)" d="M515,0L696,0L696,1409L530,1409L197,1180L197,1010L515,1237Z"/>
<path transform="translate(342.56,15.00) scale(0.00879,-0.00879)" d="M515,0L696,0L696,1409L530,1409L197,1180L197,1010L515,1237Z"/>
<path transform="translate(510.58,377.00) scale(0.00879,-0.00879)" d="M515,0L696,0L696,1409L530,1409L197,1180L197,1010L515,1237Z"/>
<path transform="translate(510.90,603.00) scale(0.00879,-0.00879)" d="M515,0L696,0L696,1409L530,1409L197,1180L197,1010L515,1237Z"/>
</g>
</svg>
</body></html>
